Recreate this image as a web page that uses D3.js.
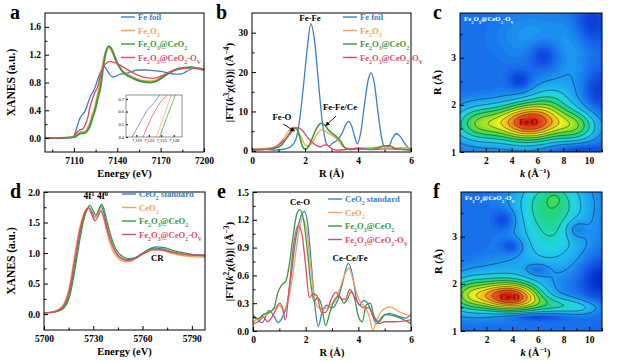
<!DOCTYPE html>
<html>
<head>
<meta charset="utf-8">
<script src="https://cdn.jsdelivr.net/npm/d3@7"></script>
<style>
body { margin: 0; background: #fff; }
text { font-family: "Liberation Serif", "Times New Roman", serif; font-weight: bold; }
</style>
</head>
<body>
<script>
// colours of the four samples
var colBlue = "#3b80c3", colOrange = "#f3a451", colGreen = "#389a3a", colRed = "#e14b66";

// ---- panel a: Fe K-edge XANES (energy, norm. absorption)
var aFeFoil = [[7090,0],[7100,0],[7108,0.01],[7110,0.03],[7112,0.15],[7114,0.28],[7116,0.34],[7118,0.4],[7120,0.52],[7121.6,0.61],[7123,0.66],[7124.7,0.73],[7126,0.82],[7128,0.93],[7130,1.01],[7131.5,1.02],[7133,0.97],[7135,0.91],[7137,0.88],[7139,0.89],[7142,0.92],[7146,0.93],[7150,0.96],[7155,0.98],[7160,0.98],[7165,0.97],[7170,0.96],[7175,0.94],[7180,0.92],[7184,0.92],[7188,0.96],[7192,1.0],[7196,1.0],[7200,0.98]];
var aFe2O3 = [[7090,0],[7108,0.01],[7111,0.03],[7113,0.07],[7115,0.09],[7117,0.09],[7119,0.13],[7121,0.22],[7123,0.36],[7123.8,0.4],[7125.6,0.56],[7127.4,0.73],[7129,0.95],[7131,1.18],[7133,1.29],[7134.5,1.3],[7136,1.25],[7138,1.16],[7140,1.07],[7143,0.98],[7147,0.92],[7152,0.87],[7157,0.83],[7162,0.82],[7166,0.83],[7170,0.87],[7175,0.93],[7180,0.98],[7185,1.0],[7190,1.02],[7195,1.01],[7200,0.99]];
var aFe2O3CeO2 = [[7090,0],[7108,0.01],[7111,0.02],[7113,0.05],[7115,0.07],[7117,0.07],[7119,0.1],[7121,0.17],[7123,0.3],[7124.6,0.4],[7126.5,0.57],[7128.4,0.73],[7130,0.98],[7132,1.22],[7134,1.32],[7135.5,1.3],[7137,1.24],[7139,1.13],[7141,1.04],[7144,0.95],[7148,0.89],[7153,0.84],[7158,0.81],[7163,0.8],[7167,0.82],[7171,0.87],[7176,0.94],[7181,0.99],[7186,1.01],[7191,1.02],[7196,1.0],[7200,0.98]];
var aOv = [[7090,0],[7108,0.01],[7110,0.03],[7112,0.08],[7114,0.12],[7116,0.13],[7118,0.2],[7120,0.33],[7120.6,0.4],[7122.6,0.55],[7124.5,0.66],[7126.3,0.73],[7128,0.88],[7130,1.0],[7132,1.07],[7135,1.1],[7138,1.09],[7141,1.06],[7145,1.01],[7150,0.95],[7155,0.9],[7160,0.87],[7165,0.86],[7170,0.89],[7175,0.94],[7180,0.98],[7185,1.0],[7192,1.01],[7200,1.0]];

// ---- panel b: Fe K-edge FT-EXAFS (R, |FT|)
var bFeFoil = [[0,0.3],[0.5,0.35],[0.9,0.2],[1.2,0.4],[1.45,1.0],[1.65,2.8],[1.8,8],[1.95,17],[2.1,27],[2.22,32.3],[2.35,28.5],[2.5,18],[2.65,7.5],[2.8,2],[2.9,1.2],[3.05,2],[3.2,2.6],[3.4,4.5],[3.55,6.8],[3.65,7.5],[3.75,6.5],[3.88,3.5],[3.97,1.8],[4.1,4.5],[4.25,12],[4.4,18.5],[4.5,19.8],[4.62,17],[4.75,10],[4.9,3],[5.0,1.0],[5.15,1.0],[5.3,3.2],[5.45,4.4],[5.6,3.6],[5.75,2],[5.9,0.8],[6,0.5]];
var bFe2O3 = [[0,0.5],[0.4,0.6],[0.8,0.9],[1.0,1.6],[1.2,3.2],[1.4,5.2],[1.55,6.0],[1.7,5.4],[1.85,3.5],[2.0,1.6],[2.15,1.2],[2.3,2.4],[2.45,4.2],[2.6,5.3],[2.72,5.2],[2.85,4.6],[3.0,4.0],[3.15,3.3],[3.3,2.2],[3.45,1.0],[3.6,0.6],[3.8,0.6],[4.0,0.9],[4.3,0.7],[4.6,0.9],[5.0,1.1],[5.3,0.6],[5.6,0.8],[6,0.6]];
var bFe2O3CeO2 = [[0,0.3],[0.5,0.4],[0.9,0.7],[1.1,1.4],[1.3,3.2],[1.45,4.8],[1.6,5.8],[1.7,5.5],[1.8,3.5],[1.9,1.2],[2.0,0.4],[2.1,0.8],[2.25,2.8],[2.4,5.2],[2.55,6.8],[2.63,7.0],[2.75,6.5],[2.9,5.2],[3.05,4.3],[3.2,3.5],[3.35,2.4],[3.5,0.8],[3.7,0.3],[4.0,0.5],[4.4,0.4],[4.8,0.8],[5.0,1.3],[5.2,1.3],[5.4,0.6],[5.8,0.3],[6,0.2]];
var bOv = [[0,0.2],[0.5,0.3],[0.8,0.7],[1.0,1.5],[1.2,2.6],[1.4,4.0],[1.55,5.2],[1.7,5.9],[1.85,5.5],[2.0,4.3],[2.15,3.0],[2.3,2.0],[2.45,1.3],[2.6,1.0],[2.72,1.5],[2.85,1.4],[3.0,0.6],[3.2,0.2],[3.5,0.3],[4.0,0.6],[4.5,0.3],[5.0,0.5],[5.5,0.4],[6,0.3]];

// ---- panel d: Ce L3-edge XANES
var dStandard = [[5700,0.02],[5705,0.03],[5709,0.06],[5712,0.12],[5714,0.22],[5716,0.4],[5718,0.7],[5720,1.02],[5722,1.33],[5724,1.56],[5726,1.7],[5727.5,1.74],[5729,1.68],[5731,1.58],[5733,1.67],[5734.5,1.77],[5736,1.7],[5738,1.47],[5740,1.26],[5743,1.05],[5746,0.94],[5750,0.89],[5754,0.9],[5758,0.96],[5762,1.03],[5767,1.08],[5772,1.07],[5778,1.02],[5785,0.98],[5792,0.96],[5798,0.95]];
var dCeO2 = [[5700,0.02],[5705,0.04],[5709,0.08],[5712,0.16],[5714,0.3],[5716,0.52],[5718,0.85],[5720,1.18],[5722,1.45],[5724,1.63],[5726,1.73],[5727,1.74],[5728.5,1.67],[5730.5,1.57],[5732.5,1.64],[5734,1.73],[5735.5,1.66],[5737.5,1.43],[5739.5,1.22],[5742,1.03],[5745,0.92],[5749,0.86],[5753,0.87],[5757,0.93],[5761,1.0],[5766,1.05],[5771,1.05],[5777,1.0],[5784,0.96],[5791,0.94],[5798,0.93]];
var dFe2O3CeO2 = [[5700,0.02],[5705,0.03],[5709,0.05],[5712,0.1],[5714,0.18],[5716,0.33],[5718,0.6],[5720,0.92],[5722,1.25],[5724,1.52],[5726,1.7],[5728,1.78],[5729.5,1.72],[5731.5,1.62],[5733.5,1.72],[5735,1.8],[5736.5,1.72],[5738.5,1.5],[5740.5,1.3],[5743.5,1.08],[5747,0.96],[5751,0.91],[5755,0.92],[5759,0.98],[5763,1.05],[5768,1.1],[5773,1.09],[5779,1.04],[5786,1.0],[5792,0.97],[5798,0.96]];
var dOv = [[5700,0.02],[5705,0.03],[5709,0.07],[5712,0.14],[5714,0.26],[5716,0.46],[5718,0.78],[5720,1.1],[5722,1.4],[5724,1.6],[5726,1.72],[5727.5,1.74],[5729,1.64],[5731,1.53],[5733,1.6],[5734.5,1.69],[5736,1.62],[5738,1.43],[5740,1.24],[5743,1.04],[5746,0.93],[5750,0.88],[5754,0.89],[5758,0.95],[5762,1.01],[5767,1.06],[5772,1.05],[5778,1.01],[5785,0.98],[5792,0.97],[5798,0.97]];

// ---- panel e: Ce L3-edge FT-EXAFS
var eStandard = [[0,0.15],[0.15,0.13],[0.35,0.09],[0.6,0.22],[0.8,0.16],[0.95,0.09],[1.1,0.14],[1.3,0.3],[1.45,0.6],[1.6,0.95],[1.78,1.2],[1.95,1.29],[2.08,1.15],[2.22,0.7],[2.36,0.25],[2.48,0.05],[2.62,0.2],[2.8,0.28],[3.0,0.25],[3.2,0.32],[3.4,0.52],[3.62,0.73],[3.78,0.6],[3.92,0.36],[4.05,0.28],[4.2,0.33],[4.35,0.3],[4.5,0.2],[4.68,0.08],[4.9,0.15],[5.2,0.19],[5.5,0.16],[5.8,0.14],[6,0.18]];
var eCeO2 = [[0,0.1],[0.3,0.15],[0.6,0.19],[0.85,0.25],[1.0,0.28],[1.15,0.22],[1.35,0.35],[1.52,0.62],[1.7,1.0],[1.88,1.21],[2.02,1.12],[2.17,0.75],[2.32,0.38],[2.5,0.25],[2.7,0.24],[2.9,0.28],[3.1,0.31],[3.3,0.46],[3.5,0.62],[3.64,0.68],[3.8,0.55],[3.95,0.4],[4.1,0.3],[4.28,0.25],[4.42,0.15],[4.55,0.01],[4.7,0.12],[4.9,0.22],[5.2,0.26],[5.6,0.2],[6,0.16]];
var eFe2O3CeO2 = [[0,0.17],[0.2,0.13],[0.4,0.18],[0.6,0.2],[0.8,0.25],[0.95,0.42],[1.1,0.5],[1.25,0.54],[1.38,0.72],[1.52,1.02],[1.66,1.26],[1.78,1.31],[1.92,1.2],[2.06,0.88],[2.2,0.5],[2.32,0.32],[2.45,0.36],[2.58,0.3],[2.76,0.06],[2.92,0.2],[3.1,0.34],[3.28,0.38],[3.45,0.3],[3.6,0.35],[3.72,0.42],[3.86,0.35],[4.0,0.16],[4.15,0.1],[4.3,0.28],[4.45,0.3],[4.6,0.16],[4.8,0.1],[5.0,0.18],[5.5,0.15],[6,0.08]];
var eOv = [[0,0.08],[0.2,0.1],[0.4,0.15],[0.55,0.1],[0.72,0.15],[0.9,0.25],[1.0,0.3],[1.1,0.27],[1.23,0.12],[1.38,0.48],[1.55,0.95],[1.72,1.14],[1.86,1.04],[2.0,0.7],[2.14,0.36],[2.28,0.4],[2.43,0.38],[2.6,0.2],[2.76,0.2],[2.98,0.35],[3.15,0.42],[3.33,0.35],[3.5,0.34],[3.68,0.45],[3.84,0.38],[4.0,0.3],[4.2,0.25],[4.4,0.25],[4.6,0.14],[4.8,0.08],[5.0,0.1],[5.4,0.1],[6,0.12]];

// ---- wavelet maps: features [k, R, amplitude, width k, width R]
var cBlobs = [[4.6,1.63,0.42,1.5,0.29],[6.2,1.63,0.42,1.5,0.27],[1.5,1.6,0.35,1.5,0.27],[9.0,1.55,0.3,1.2,0.24],[7.0,2.1,0.15,1.2,0.3],
  [4.65,2.52,-0.1,0.6,0.15],[6.45,3.05,-0.11,0.8,0.2],[10.2,3.75,-0.1,0.9,0.3],[10.7,2.3,-0.09,0.8,0.3],[9.2,1.05,-0.1,1.5,0.1],
  [5.5,3.45,0.07,2.0,0.4],[8.7,2.9,0.06,1.0,0.7]];
var fBlobs = [[3.0,1.73,0.42,1.4,0.22],[4.6,1.72,0.42,1.4,0.2],[0.5,1.75,0.32,1.2,0.25],[7.4,1.55,0.2,1.6,0.13],[9.5,1.48,0.1,1.0,0.1],[3.0,2.1,0.1,2.2,0.3],
  [7.0,3.75,0.27,2.0,0.45],[7.3,3.8,0.05,0.35,0.08],[7.0,2.85,0.17,2.0,0.45],
  [3.4,3.36,-0.11,0.6,0.15],[4.0,2.8,-0.11,0.6,0.12],[6.0,2.3,-0.1,0.7,0.1],[8.9,3.16,-0.11,0.6,0.15],[10.8,2.1,-0.13,1.0,0.3],[5.6,1.3,-0.13,1.6,0.05]];
var mapBase = 0.21;
var kDomain = [0, 11], rDomain = [1, 3.95];

// legend labels
var feLabels = ["Fe foil", "Fe_{2}O_{3}", "Fe_{2}O_{3}@CeO_{2}", "Fe_{2}O_{3}@CeO_{2}-O_{V}"];
var ceLabels = ["CeO_{2} standard", "CeO_{2}", "Fe_{2}O_{3}@CeO_{2}", "Fe_{2}O_{3}@CeO_{2}-O_{V}"];
var colours = [colBlue, colOrange, colGreen, colRed];

var svg = d3.select("body").append("svg").attr("width", 622).attr("height", 362);

// text with _{sub}, ^{sup} and *{italic} pieces
function rich(sel, str) {
  var re = /([_^*])\{([^}]*)\}|([^_^*]+)/g, m;
  while ((m = re.exec(str))) {
    if (m[3]) { sel.append("tspan").text(m[3]); continue; }
    var t = sel.append("tspan").text(m[2]);
    if (m[1] == "_") t.attr("baseline-shift", "sub").attr("font-size", "0.68em");
    if (m[1] == "^") t.attr("baseline-shift", "super").attr("font-size", "0.68em");
    if (m[1] == "*") t.attr("font-style", "italic");
  }
  return sel;
}

function addAxes(g, x, y, box, o) {
  var xa = d3.axisBottom(x).tickValues(o.xTicks).tickFormat(o.xFormat)
    .tickSizeInner(-4).tickSizeOuter(0).tickPadding(5);
  g.append("g").attr("transform", "translate(0," + box[3] + ")").call(xa)
    .attr("font-size", 9.5).call(function(s) { s.select(".domain").remove(); });
  g.append("g").attr("transform", "translate(0," + box[3] + ")")
    .call(d3.axisBottom(x).tickValues(o.xMinor).tickFormat("").tickSizeInner(-2.5).tickSizeOuter(0))
    .call(function(s) { s.select(".domain").remove(); });
  var ya = d3.axisLeft(y).tickValues(o.yTicks).tickFormat(o.yFormat)
    .tickSizeInner(-4).tickSizeOuter(0).tickPadding(4);
  g.append("g").attr("transform", "translate(" + box[0] + ",0)").call(ya)
    .attr("font-size", 9.5).call(function(s) { s.select(".domain").remove(); });
  g.append("g").attr("transform", "translate(" + box[0] + ",0)")
    .call(d3.axisLeft(y).tickValues(o.yMinor).tickFormat("").tickSizeInner(-2.5).tickSizeOuter(0))
    .call(function(s) { s.select(".domain").remove(); });
  g.append("rect").attr("x", box[0]).attr("y", box[1])
    .attr("width", box[2] - box[0]).attr("height", box[3] - box[1])
    .attr("fill", "none").attr("stroke", "#000").attr("stroke-width", 1);

  // panel letter and axis titles
  g.append("text").attr("x", o.letterPos[0]).attr("y", o.letterPos[1])
    .attr("font-size", 20).text(o.letter);
  rich(g.append("text").attr("x", (box[0] + box[2]) / 2 + (o.xTitleShift || 0)).attr("y", box[3] + 25)
    .attr("text-anchor", "middle").attr("font-size", 10.5), o.xTitle);
  rich(g.append("text").attr("transform", "translate(" + o.yTitleX + "," + ((box[1] + box[3]) / 2) + ") rotate(-90)")
    .attr("text-anchor", "middle").attr("font-size", o.yTitleSize || 11.5), o.yTitle);
}

function linePanel(o) {
  var g = svg.append("g");
  var box = o.box;
  var x = d3.scaleLinear().domain(o.xDomain).range([box[0], box[2]]);
  var y = d3.scaleLinear().domain(o.yDomain).range([box[3], box[1]]);
  svg.append("clipPath").attr("id", "clip" + o.letter).append("rect")
    .attr("x", box[0]).attr("y", box[1]).attr("width", box[2] - box[0]).attr("height", box[3] - box[1]);
  var line = d3.line().x(function(d) { return x(d[0]); }).y(function(d) { return y(d[1]); })
    .curve(d3.curveMonotoneX);
  g.append("g").attr("clip-path", "url(#clip" + o.letter + ")")
    .selectAll("path").data(o.series).join("path")
    .attr("d", function(s) { return line(s.values); })
    .attr("fill", "none").attr("stroke", function(s) { return s.color; })
    .attr("stroke-width", function(s) { return s.width || 1.3; });
  addAxes(g, x, y, box, o);

  // legend
  var lg = g.append("g").attr("transform", "translate(" + o.legend[0] + "," + o.legend[1] + ")");
  o.series.forEach(function(s, i) {
    lg.append("line").attr("x1", 0).attr("x2", 14).attr("y1", i * 13.5).attr("y2", i * 13.5)
      .attr("stroke", s.color).attr("stroke-width", 1.4);
    rich(lg.append("text").attr("x", 17).attr("y", i * 13.5 + 3).attr("font-size", 8.6)
      .attr("fill", s.color), s.label);
  });
  return { g: g, x: x, y: y };
}

function seriesOf(arrays, labels, widths) {
  return arrays.map(function(v, i) {
    return { values: v, label: labels[i], color: colours[i], width: widths ? widths[i] : 1.3 };
  });
}

// ---------- a
var pa = linePanel({
  letter: "a", box: [45, 13, 204, 152], xDomain: [7090, 7200], yDomain: [-0.2, 1.8],
  xTicks: [7110, 7140, 7170, 7200], xMinor: [7095, 7125, 7155, 7185], xFormat: d3.format("d"),
  yTicks: [0, 0.4, 0.8, 1.2, 1.6], yMinor: [0.2, 0.6, 1.0, 1.4], yFormat: d3.format(".1f"),
  series: seriesOf([aFeFoil, aFe2O3, aFe2O3CeO2, aOv], feLabels, [1.3, 1.5, 2, 1.4]),
  legend: [121, 17], letterPos: [10, 19], xTitle: "Energy (eV)", yTitle: "XANES (a.u.)", yTitleX: 15
});

// inset of a
(function() {
  var box = [126, 95, 182, 137];
  var x = d3.scaleLinear().domain([7116.5, 7130]).range([box[0], box[2]]);
  var y = d3.scaleLinear().domain([0.4, 0.73]).range([box[3], box[1]]);
  var g = pa.g.append("g");
  g.append("rect").attr("x", box[0]).attr("y", box[1]).attr("width", box[2] - box[0])
    .attr("height", box[3] - box[1]).attr("fill", "#fff");
  svg.append("clipPath").attr("id", "clipInset").append("rect")
    .attr("x", box[0]).attr("y", box[1]).attr("width", box[2] - box[0]).attr("height", box[3] - box[1]);
  var line = d3.line().x(function(d) { return x(d[0]); }).y(function(d) { return y(d[1]); });
  g.append("g").attr("clip-path", "url(#clipInset)").selectAll("path")
    .data([aFeFoil, aFe2O3, aFe2O3CeO2, aOv]).join("path")
    .attr("d", line).attr("fill", "none").attr("stroke-width", 0.7)
    .attr("stroke", function(d, i) { return colours[i]; });
  g.append("g").attr("transform", "translate(0," + box[3] + ")")
    .call(d3.axisBottom(x).tickValues([7119, 7122, 7125, 7128]).tickSizeInner(-2).tickSizeOuter(0).tickPadding(2))
    .attr("font-size", 4.5).call(function(s) { s.select(".domain").remove(); });
  g.append("g").attr("transform", "translate(" + box[0] + ",0)")
    .call(d3.axisLeft(y).tickValues([0.4, 0.5, 0.6, 0.7]).tickFormat(d3.format(".1f")).tickSizeInner(-2).tickSizeOuter(0).tickPadding(2))
    .attr("font-size", 4.5).call(function(s) { s.select(".domain").remove(); });
  g.selectAll("text").style("font-weight", "normal");
  g.append("rect").attr("x", box[0]).attr("y", box[1]).attr("width", box[2] - box[0])
    .attr("height", box[3] - box[1]).attr("fill", "none").attr("stroke", "#444").attr("stroke-width", 0.6);
})();

// ---------- b
var pb = linePanel({
  letter: "b", box: [252, 13, 411, 152], xDomain: [0, 6], yDomain: [-0.3, 35],
  xTicks: [0, 2, 4, 6], xMinor: [1, 3, 5], xFormat: d3.format("d"),
  yTicks: [0, 10, 20, 30], yMinor: [5, 15, 25], yFormat: d3.format("d"),
  series: seriesOf([bFeFoil, bFe2O3, bFe2O3CeO2, bOv], feLabels, [1.3, 1.3, 1.6, 1.3]),
  legend: [343, 17], letterPos: [216, 19], xTitle: "R (Å)",
  yTitle: "|FT(*{k}^{3}χ(*{k}))| (Å^{−4})", yTitleX: 233, yTitleSize: 11
});
(function() {
  var g = pb.g, x = pb.x, y = pb.y;
  svg.append("defs").append("marker").attr("id", "arrow").attr("viewBox", "0 0 10 10")
    .attr("refX", 9).attr("refY", 5).attr("markerWidth", 5).attr("markerHeight", 5)
    .attr("orient", "auto").append("path").attr("d", "M0,0L10,5L0,10z").attr("fill", "#000");
  g.append("text").attr("x", x(2.19)).attr("y", y(33.7) + 3).attr("text-anchor", "middle").attr("font-size", 8.8).text("Fe-Fe");
  g.append("text").attr("x", x(1.13)).attr("y", y(8.6) + 3).attr("text-anchor", "middle").attr("font-size", 8.8).text("Fe-O");
  g.append("text").attr("x", x(3.32)).attr("y", y(11.1) + 3).attr("text-anchor", "middle").attr("font-size", 8.8).text("Fe-Fe/Ce");
  g.append("line").attr("x1", x(1.18)).attr("y1", y(6.8)).attr("x2", x(1.6)).attr("y2", y(5.0))
    .attr("stroke", "#000").attr("stroke-width", 0.9).attr("marker-end", "url(#arrow)");
  g.append("line").attr("x1", x(3.17)).attr("y1", y(8.8)).attr("x2", x(2.78)).attr("y2", y(6.4))
    .attr("stroke", "#000").attr("stroke-width", 0.9).attr("marker-end", "url(#arrow)");
})();

// ---------- d
var pd = linePanel({
  letter: "d", box: [44, 192, 205, 330], xDomain: [5700, 5798], yDomain: [-0.26, 2.0],
  xTicks: [5700, 5730, 5760, 5790], xMinor: [5715, 5745, 5775], xFormat: d3.format("d"),
  yTicks: [0, 0.5, 1.0, 1.5, 2.0], yMinor: [0.25, 0.75, 1.25, 1.75], yFormat: d3.format(".1f"),
  series: seriesOf([dStandard, dCeO2, dFe2O3CeO2, dOv], ceLabels),
  legend: [122, 194], letterPos: [10, 198], xTitle: "Energy (eV)", yTitle: "XANES (a.u.)", yTitleX: 15
});
rich(pd.g.append("text").attr("x", pd.x(5731.5)).attr("y", pd.y(1.88)).attr("text-anchor", "middle")
  .attr("font-size", 9.5), "4f^{1} 4f^{0}");
pd.g.append("text").attr("x", pd.x(5769)).attr("y", pd.y(0.87)).attr("text-anchor", "middle")
  .attr("font-size", 8.8).text("CR");

// ---------- e
var pe = linePanel({
  letter: "e", box: [253, 192, 411, 331], xDomain: [0, 6], yDomain: [0, 1.5],
  xTicks: [0, 2, 4, 6], xMinor: [1, 3, 5], xFormat: d3.format("d"),
  yTicks: [0, 0.3, 0.6, 0.9, 1.2, 1.5], yMinor: [0.15, 0.45, 0.75, 1.05, 1.35], yFormat: d3.format(".1f"),
  series: seriesOf([eStandard, eCeO2, eFe2O3CeO2, eOv], ceLabels),
  legend: [328, 199], letterPos: [217, 198], xTitle: "R (Å)",
  yTitle: "|FT(*{k}^{2}χ(*{k}))| (Å^{−3})", yTitleX: 233, yTitleSize: 11
});
pe.g.append("text").attr("x", pe.x(1.79)).attr("y", pe.y(1.39) + 3).attr("text-anchor", "middle").attr("font-size", 8.8).text("Ce-O");
pe.g.append("text").attr("x", pe.x(3.69)).attr("y", pe.y(0.79) + 3).attr("text-anchor", "middle").attr("font-size", 8.8).text("Ce-Ce/Fe");

// ---------- wavelet maps c and f
var jet = d3.scaleLinear()
  .domain([0, 0.1, 0.2, 0.3, 0.4, 0.5, 0.6, 0.7, 0.8, 0.9, 1])
  .range(["#00109a", "#0630d0", "#1766ea", "#1ea4f2", "#22d4e6", "#22d47a", "#80e02a", "#f0f020", "#f6a021", "#ea4b16", "#c01010"])
  .clamp(true);

function mapPanel(o) {
  var g = svg.append("g");
  var box = o.box;
  var x = d3.scaleLinear().domain(kDomain).range([box[0], box[2]]);
  var y = d3.scaleLinear().domain(rDomain).range([box[3], box[1]]);
  var nx = 111, ny = 60;
  var dk = (kDomain[1] - kDomain[0]) / (nx - 1), dr = (rDomain[1] - rDomain[0]) / (ny - 1);
  var values = new Array(nx * ny);
  for (var j = 0; j < ny; j++) {
    for (var i = 0; i < nx; i++) {
      var k = kDomain[0] + i * dk, r = rDomain[0] + j * dr, v = mapBase;
      o.blobs.forEach(function(b) {
        v += b[2] * Math.exp(-0.5 * Math.pow((k - b[0]) / b[3], 2) - 0.5 * Math.pow((r - b[1]) / b[4], 2));
      });
      values[j * nx + i] = v;
    }
  }
  var proj = d3.geoPath(d3.geoTransform({
    point: function(px, py) { this.stream.point(x(kDomain[0] + (px - 0.5) * dk), y(rDomain[0] + (py - 0.5) * dr)); }
  }));
  var id = "clip" + o.letter;
  svg.append("clipPath").attr("id", id).append("rect")
    .attr("x", box[0]).attr("y", box[1]).attr("width", box[2] - box[0]).attr("height", box[3] - box[1]);
  var inner = g.append("g").attr("clip-path", "url(#" + id + ")");
  inner.append("rect").attr("x", box[0]).attr("y", box[1]).attr("width", box[2] - box[0])
    .attr("height", box[3] - box[1]).attr("fill", jet(0));
  var step = 0.015;
  var fills = d3.contours().size([nx, ny]).thresholds(d3.range(0, 1.0, step))(values);
  inner.selectAll("path.fill").data(fills).join("path").attr("class", "fill")
    .attr("d", proj).attr("fill", function(d) { return jet(d.value + step / 2); })
    .attr("stroke", function(d) { return jet(d.value + step / 2); }).attr("stroke-width", 0.4);
  var lines = d3.contours().size([nx, ny]).thresholds([0.28, 0.36, 0.44, 0.51, 0.58, 0.65, 0.72, 0.79, 0.86])(values);
  inner.selectAll("path.iso").data(lines).join("path").attr("class", "iso")
    .attr("d", proj).attr("fill", "none").attr("stroke", "#1a1a1a").attr("stroke-width", 0.6).attr("stroke-opacity", 0.85);

  addAxes(g, x, y, box, {
    xTicks: [2, 4, 6, 8, 10], xMinor: [1, 3, 5, 7, 9, 11], xFormat: d3.format("d"),
    yTicks: [1, 2, 3], yMinor: [1.5, 2.5, 3.5], yFormat: d3.format("d"),
    letter: o.letter, letterPos: o.letterPos, xTitle: "*{k} (Å^{−1})", xTitleShift: 4,
    yTitle: "R (Å)", yTitleX: box[0] - 19, yTitleSize: 10.5
  });
  rich(g.append("text").attr("x", box[0] + 4).attr("y", box[1] + 8).attr("font-size", 6.8)
    .attr("fill", "#fff"), "Fe_{2}O_{3}@CeO_{2}-O_{V}");
  g.append("text").attr("x", x(o.peak[0])).attr("y", y(o.peak[1]) + 3).attr("text-anchor", "middle")
    .attr("font-size", 8.8).attr("fill", "#8a0c0c").text(o.peakLabel);
}

mapPanel({ letter: "c", box: [460, 13, 602, 152], blobs: cBlobs, letterPos: [433, 19], peak: [5.3, 1.63], peakLabel: "Fe-O" });
mapPanel({ letter: "f", box: [461, 192, 602, 331], blobs: fBlobs, letterPos: [433, 198], peak: [3.8, 1.73], peakLabel: "Ce-O" });
</script>
</body>
</html>
